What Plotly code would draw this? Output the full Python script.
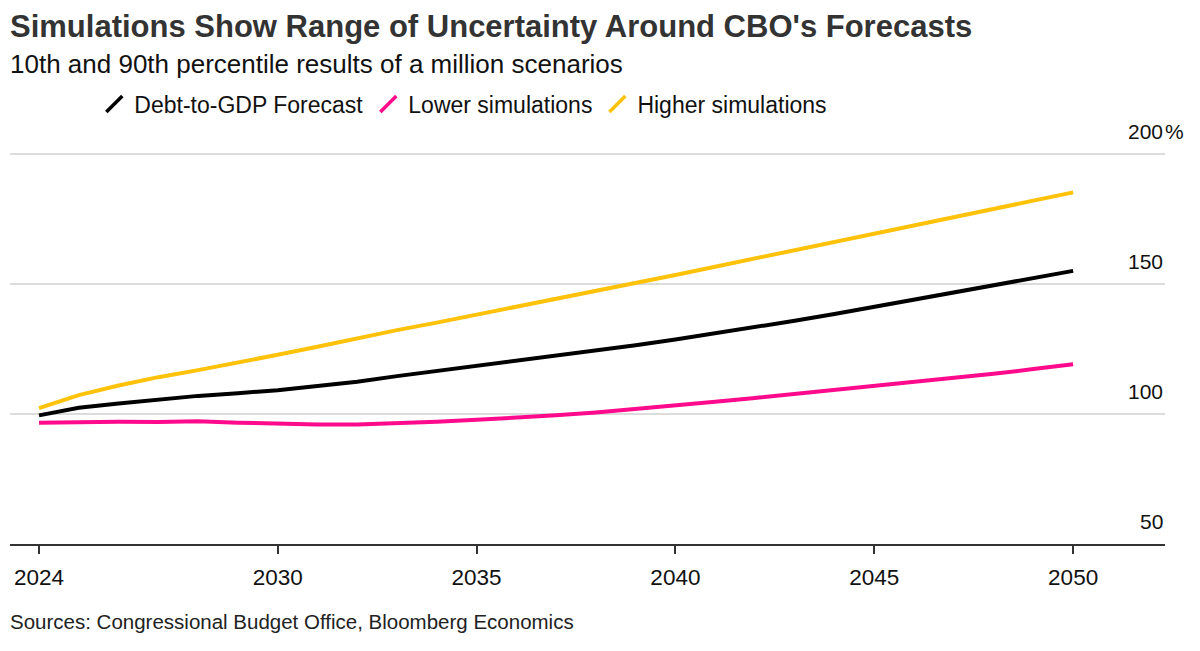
import plotly.graph_objects as go

# years and debt-to-GDP values (%)
years = list(range(2024, 2051))
forecast = [99.5, 102.4, 104.1, 105.7, 107.0, 108.0, 109.2, 110.8, 112.4, 114.6, 116.6,
            118.5, 120.4, 122.3, 124.3, 126.5, 128.7, 131.0, 133.4, 135.9, 138.5,
            141.3, 144.1, 147.0, 149.7, 152.4, 155.1]
lower = [96.7, 97.0, 97.0, 96.9, 97.2, 96.7, 96.3, 96.0, 96.0, 96.4, 97.0,
         97.8, 98.6, 99.5, 100.6, 101.9, 103.3, 104.7, 106.2, 107.7, 109.2,
         110.8, 112.3, 113.8, 115.5, 117.3, 119.2]
higher = [102.3, 107.3, 111.0, 114.2, 116.9, 119.7, 122.8, 125.9, 129.2, 132.3, 135.2,
          138.2, 141.2, 144.2, 147.3, 150.4, 153.5, 156.7, 159.9, 163.1, 166.3,
          169.5, 172.7, 175.9, 179.0, 182.1, 185.3]

series_names = ['Debt-to-GDP Forecast', 'Lower simulations', 'Higher simulations']
series_colors = ['#000000', '#ff0a8c', '#ffc20a']

x_ticks = [2024, 2030, 2035, 2040, 2045, 2050]
y_ticks = [50, 100, 150, 200]

FONT = 'Liberation Sans, Arial, sans-serif'

fig = go.Figure()
for name, vals, col in zip(series_names, [forecast, lower, higher], series_colors):
    fig.add_trace(go.Scatter(x=years, y=vals, mode='lines', name=name,
                             line=dict(color=col, width=4), showlegend=False))
    # legend-only entry with a slash icon
    fig.add_trace(go.Scatter(x=[None], y=[None], mode='markers', name=name,
                             marker=dict(symbol='line-ne', size=17,
                                         line=dict(color=col, width=3.5))))

# y tick labels sit above the gridlines, right-aligned
for v in y_ticks:
    fig.add_annotation(x=1, xref='paper', y=v, yref='y', text=str(v),
                       xanchor='right', yanchor='bottom', yshift=9, showarrow=False,
                       font=dict(size=21, color='#111', family=FONT))
fig.add_annotation(x=1, xref='paper', y=200, yref='y', text='%',
                   xanchor='left', yanchor='bottom', yshift=9, xshift=-2, showarrow=False,
                   font=dict(size=21, color='#111', family=FONT))

fig.add_annotation(x=0, xref='paper', y=1.309, yref='paper', yanchor='middle',
                   xanchor='left', showarrow=False, xshift=-2,
                   text='<b>Simulations Show Range of Uncertainty Around CBO\'s Forecasts</b>',
                   font=dict(size=31, color='#333', family=FONT))
fig.add_annotation(x=0, xref='paper', y=1.215, yref='paper', yanchor='middle',
                   xanchor='left', showarrow=False, xshift=-2,
                   text='10th and 90th percentile results of a million scenarios',
                   font=dict(size=26, color='#111', family=FONT))
fig.add_annotation(x=0, xref='paper', y=-0.195, yref='paper', yanchor='middle',
                   xanchor='left', showarrow=False, xshift=-2,
                   text='Sources: Congressional Budget Office, Bloomberg Economics',
                   font=dict(size=20.5, color='#222', family=FONT))

# the page adds an 8px body margin, so the figure is drawn 8px smaller
fig.update_layout(
    width=1192, height=643,
    margin=dict(l=2, r=35, t=141, b=107),
    plot_bgcolor='white', paper_bgcolor='white',
    font=dict(family=FONT, color='#111'),
    legend=dict(orientation='h', x=0.073, y=1.114, xanchor='left', yanchor='middle',
                font=dict(size=23, color='#111', family=FONT),
                bgcolor='rgba(0,0,0,0)', itemwidth=30),
    xaxis=dict(range=[2023.27, 2052.31], tickmode='array', tickvals=x_ticks,
               showgrid=False, zeroline=False, showline=True, linecolor='#333',
               linewidth=2, ticks='outside', ticklen=8, tickwidth=1.5, tickcolor='#333',
               tickfont=dict(size=22.5, color='#111', family=FONT), ticklabelstandoff=4),
    yaxis=dict(range=[50, 202], tickmode='array', tickvals=y_ticks, showticklabels=False,
               showgrid=True, gridcolor='#dcdcdc', gridwidth=1.5, zeroline=False,
               showline=False),
)

fig.write_html('out.html')
